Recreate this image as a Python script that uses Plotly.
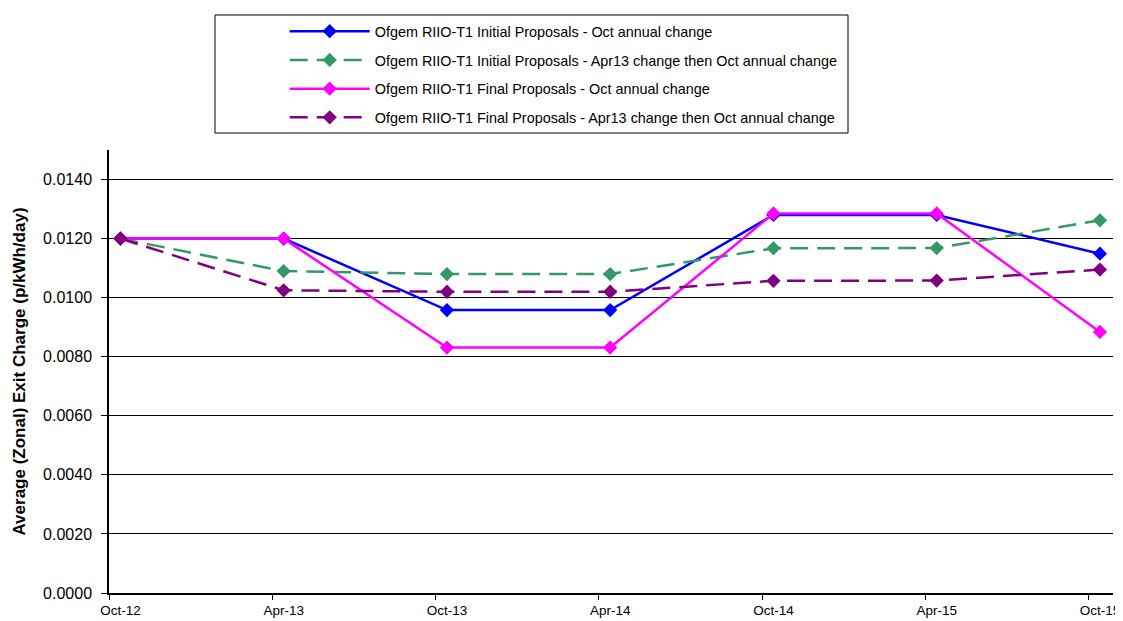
import plotly.graph_objects as go

categories = ["Oct-12", "Apr-13", "Oct-13", "Apr-14", "Oct-14", "Apr-15", "Oct-15"]
initial_oct = [0.0120, 0.0120, 0.00958, 0.00958, 0.0128, 0.0128, 0.01149]
initial_apr13 = [0.0120, 0.0109, 0.0108, 0.0108, 0.01167, 0.01168, 0.01262]
final_oct = [0.0120, 0.0120, 0.00831, 0.00831, 0.01285, 0.01285, 0.00884]
final_apr13 = [0.0120, 0.01025, 0.0102, 0.0102, 0.01057, 0.01058, 0.01095]

names = [
    "Ofgem RIIO-T1 Initial Proposals - Oct annual change",
    "Ofgem RIIO-T1 Initial Proposals - Apr13 change then Oct annual change",
    "Ofgem RIIO-T1 Final Proposals - Oct annual change",
    "Ofgem RIIO-T1 Final Proposals - Apr13 change then Oct annual change",
]
series = [initial_oct, initial_apr13, final_oct, final_apr13]
colors = ["#0000FF", "#339966", "#FF00FF", "#800080"]
dashes = ["solid", "18px,9px", "solid", "18px,9px"]

xi = list(range(len(categories)))
tick_offset = -0.07
xrange = [-0.07, 6.08]

fig = go.Figure()
for i, (nm, vals, c, d) in enumerate(zip(names, series, colors, dashes)):
    fig.add_trace(go.Scatter(
        x=xi, y=vals, name=nm, mode="lines+markers",
        line=dict(color=c, width=2.5, dash=d),
        marker=dict(symbol="diamond", size=11, color=c),
        legendgroup=f"g{i}",
    ))

# invisible trace on the secondary axis to carry tick marks
fig.add_trace(go.Scatter(x=[x + tick_offset for x in xi], y=[None]*len(xi),
                         xaxis="x2", showlegend=False, hoverinfo="skip"))

font = "Liberation Sans, Arial, sans-serif"
fig.update_layout(
    width=1123, height=621,
    margin=dict(l=101, r=18, t=142, b=36, autoexpand=False),
    paper_bgcolor="white", plot_bgcolor="white",
    font=dict(family=font, color="black"),
    showlegend=True,
    legend=dict(
        x=0.175, y=1.304, xanchor="left", yanchor="top",
        font=dict(family=font, size=14.4, color="black"),
        bgcolor="rgba(0,0,0,0)", borderwidth=0,
        itemwidth=80, tracegroupgap=7,
    ),
    xaxis=dict(
        range=xrange, tickmode="array", tickvals=xi, ticktext=categories,
        showgrid=False, zeroline=False, showline=True, linecolor="black",
        linewidth=1.5, ticks="", tickfont=dict(size=13.5, family=font),
        ticklabelstandoff=4, automargin=False,
    ),
    xaxis2=dict(
        range=xrange, overlaying="x", side="bottom", tickmode="array",
        tickvals=[x + tick_offset for x in xi], showticklabels=False,
        ticks="outside", ticklen=6, tickcolor="black", tickwidth=1,
        showgrid=False, zeroline=False, showline=False, automargin=False,
    ),
    yaxis=dict(
        range=[0, 0.015], tickmode="array",
        tickvals=[0.002 * k for k in range(8)], tickformat=".4f",
        showgrid=True, gridcolor="black", gridwidth=1,
        zeroline=False, showline=True, linecolor="black", linewidth=1.5,
        ticks="outside", ticklen=6, tickcolor="black",
        tickfont=dict(size=16, family=font), ticklabelstandoff=6,
        automargin=False,
        title=dict(text="<b>Average (Zonal) Exit Charge (p/kWh/day)</b>",
                   font=dict(size=17, family=font), standoff=13),
    ),
    shapes=[dict(type="rect", xref="paper", yref="paper",
                 x0=(215 - 109) / 1004, x1=(848 - 109) / 1004,
                 y0=(593 - 133) / 443, y1=(593 - 15) / 443,
                 line=dict(color="black", width=1))],
)

fig.write_html("out.html")
